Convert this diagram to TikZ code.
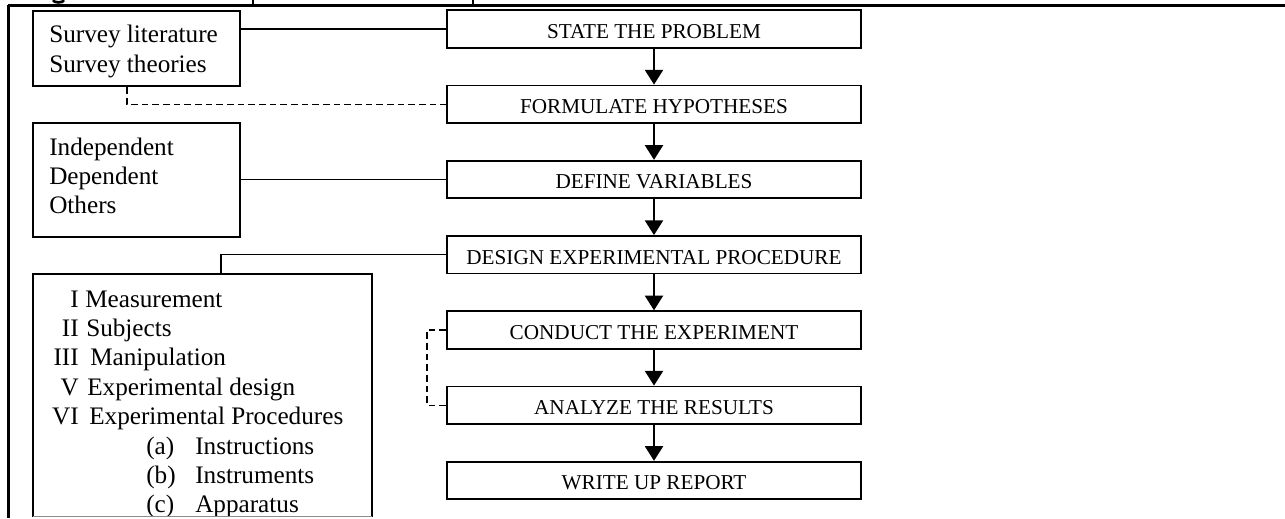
\documentclass[tikz,border=0pt]{standalone}
\usepackage{fontspec}
\setmainfont{Liberation Serif}
\usetikzlibrary{arrows.meta,fit,calc}

\begin{document}
\begin{tikzpicture}[x=0.75pt,y=-0.75pt,
  stepbox/.style={draw,line width=1.4pt,minimum width=310.5pt,minimum height=28.1pt,
    inner sep=0pt,text height=14.1pt,text depth=0pt,
    font=\fontsize{15.9pt}{18pt}\selectfont},
  sidebox/.style={draw,line width=1.4pt,inner sep=0pt},
  sidetxt/.style={anchor=base west,inner sep=0pt,font=\fontsize{18.9pt}{22pt}\selectfont},
  numtxt/.style={anchor=base east,inner sep=0pt,font=\fontsize{18.9pt}{22pt}\selectfont},
  link/.style={line width=1.1pt},
  dashline/.style={line width=1.1pt,dash pattern=on 5pt off 3pt},
  flow/.style={line width=1.5pt,-{Triangle[width=13.5pt,length=11pt]}}]
\useasboundingbox (0,0) rectangle (1285,518);

% page frame and table rules
\draw[line width=2.25pt] (1285,5.5) -- (7.6,5.5);
\draw[line width=2pt] (8.7,4.5) -- (8.7,518);
\draw[line width=1.3pt] (253,0) -- (253,5.5);
\draw[line width=1.3pt] (473,0) -- (473,5.5);
% tail of the heading glyph
\draw[line width=2pt] (53,0) .. controls (53.5,3.2) and (63.5,3.2) .. (64,0);

% main sequence of steps
\node[stepbox] (state)     at (654,29)     {STATE THE PROBLEM};
\node[stepbox] (formulate) at (654,104.25) {FORMULATE HYPOTHESES};
\node[stepbox] (define)    at (654,179.5)  {DEFINE VARIABLES};
\node[stepbox] (design)    at (654,254.75) {DESIGN EXPERIMENTAL PROCEDURE};
\node[stepbox] (conduct)   at (654,330)    {CONDUCT THE EXPERIMENT};
\node[stepbox] (analyze)   at (654,405.25) {ANALYZE THE RESULTS};
\node[stepbox] (write)     at (654,480.5)  {WRITE UP REPORT};

\draw[flow] (state) -- (formulate);
\draw[flow] (formulate) -- (define);
\draw[flow] (define) -- (design);
\draw[flow] (design) -- (conduct);
\draw[flow] (conduct) -- (analyze);
\draw[flow] (analyze) -- (write);

% literature box
\node[sidebox,fit={(33,11)(240,86)}] (survey) {};
\node[sidetxt] (survey-a) at (49,42) {Survey literature};
\node[sidetxt] (survey-b) at (49,72) {Survey theories};

% variables box
\node[sidebox,fit={(33,123)(240,237)}] (variables) {};
\node[sidetxt] (var-a) at (49,155) {Independent};
\node[sidetxt] (var-b) at (49,184) {Dependent};
\node[sidetxt] (var-c) at (49,213) {Others};

% procedure box, cut off at the lower edge
\node[inner sep=0pt,fit={(33,274)(372,516.5)}] (measure) {};
\draw[line width=1.4pt] (measure.south west) -- (measure.north west)
  -- (measure.north east) -- (measure.south east);
\draw[line width=1pt,black!45] (measure.south west) -- (measure.south east);
\begin{scope}
  \clip (33,274) rectangle (372,515);
  \node[numtxt] (n1) at (79,307)    {I};
  \node[sidetxt] (m1) at (85,307)   {Measurement};
  \node[numtxt] (n2) at (79,336.4)  {II};
  \node[sidetxt] (m2) at (86,336.4) {Subjects};
  \node[numtxt] (n3) at (79,365.8)  {III};
  \node[sidetxt] (m3) at (90,365.8) {Manipulation};
  \node[numtxt] (n4) at (79,395.2)  {V};
  \node[sidetxt] (m4) at (87,395.2) {Experimental design};
  \node[numtxt] (n5) at (79,424.6)  {VI};
  \node[sidetxt] (m5) at (89,424.6) {Experimental Procedures};
  \node[sidetxt] (s1) at (146,454)   {(a)};
  \node[sidetxt] (t1) at (195,454)   {Instructions};
  \node[sidetxt] (s2) at (146,483.4) {(b)};
  \node[sidetxt] (t2) at (195,483.4) {Instruments};
  \node[sidetxt] (s3) at (146,512.8) {(c)};
  \node[sidetxt] (t3) at (195,512.8) {Apparatus};
\end{scope}

% links from the side boxes
\draw[link] (state.west) -- (state.west -| survey.east);
\coordinate (survey-drop) at ([xshift=-7.1pt]survey.south);
\draw[dashline] (survey-drop) |- (formulate.west);
\draw[link] (define.west) -- (define.west -| variables.east);
\coordinate (measure-top) at ([xshift=13.9pt]measure.north);
\draw[link] (design.west) -| (measure-top);
\draw[dashline] (conduct.west) -- ++(-19,0) |- (analyze.west);
\end{tikzpicture}
\end{document}
